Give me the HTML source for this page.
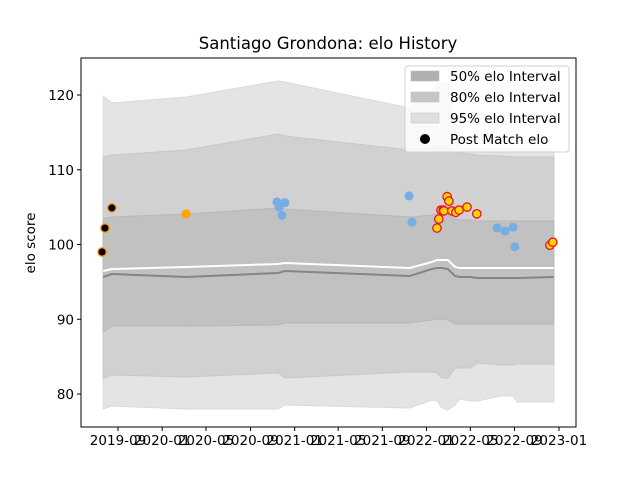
<!DOCTYPE html>
<html><head><meta charset="utf-8"><style>
body{margin:0;background:#fff;}
svg{display:block;font-family:"DejaVu Sans","Liberation Sans",sans-serif;}
</style></head><body>
<svg id="chart" width="640" height="480" viewBox="0 0 640 480">
<rect width="640" height="480" fill="#fff"/>
<text x="328" y="49" font-size="16.5" text-anchor="middle" fill="#000">Santiago Grondona: elo History</text>
<text transform="translate(35,243) rotate(-90)" font-size="13.5" text-anchor="middle">elo score</text>
<g id="bands"></g>
<g id="lines"></g>
<g id="points"></g>
<g id="axes"></g>
<g id="legend"></g>
</svg>
<script>
// days since 2019-09-01
const bandDays=[-41,-17,188,442,461,806,867,881,895,911,931,944,972,994,1055,1091,1102,1204];
const lo50=[88.29,89.10,89.10,89.23,89.50,89.50,89.90,90.03,90.03,89.90,89.37,89.37,89.37,89.37,89.37,89.37,89.37,89.37];
const up50=[103.41,103.68,104.08,104.88,104.75,103.68,103.95,104.08,104.08,103.95,103.41,103.28,103.28,103.14,103.14,103.14,103.14,103.14];
const lo80=[82.14,82.54,82.27,82.81,82.14,82.94,82.94,82.81,82.14,82.14,83.48,83.48,83.48,84.15,83.88,83.88,84.01,84.01];
const up80=[111.71,111.97,112.64,114.78,114.52,112.64,112.91,113.04,113.04,112.91,112.37,112.24,112.11,111.97,111.84,111.71,111.71,111.71];
const lo95=[77.99,78.39,77.99,77.99,78.53,78.13,79.20,79.06,78.13,77.86,78.53,79.33,79.06,79.06,79.73,79.73,78.93,78.93];
const up95=[119.87,118.93,119.73,121.87,121.74,118.26,120.67,121.61,121.74,121.47,115.32,112.91,112.91,112.91,112.78,112.78,112.64,112.64];
const meanLine=[95.65,96.05,95.65,96.19,96.45,95.79,96.72,96.86,96.86,96.72,95.79,95.65,95.65,95.52,95.52,95.52,95.52,95.65];
const medianLine=[96.45,96.72,96.99,97.39,97.53,96.86,97.66,97.93,97.93,97.93,96.99,96.86,96.86,96.86,96.86,96.86,96.86,96.86];

const blackDays=[-44,-36,-17];
const blackVals=[99.0,102.2,104.9];
const orangeDays=[188];
const orangeVals=[104.1];
const blueDays=[439,445,453,461,804,812,1047,1069,1091,1096];
const blueVals=[105.7,105.0,103.9,105.6,106.5,103.0,102.2,101.8,102.3,99.7];
const yellowDays=[881,886,892,898,900,909,914,922,933,942,964,991,1193,1201];
const yellowVals=[102.2,103.4,104.6,104.6,104.5,106.4,105.8,104.5,104.3,104.6,105.0,104.1,99.9,100.3];

const xTickDays=[0,122,243,366,488,608,730,852,973,1095,1218];
const xTickLabels=["2019-09","2020-01","2020-05","2020-09","2021-01","2021-05","2021-09","2022-01","2022-05","2022-09","2023-01"];
const yTicks=[80,90,100,110,120];

const NS="http://www.w3.org/2000/svg";
const PX0=81,PX1=576,PY0=58,PY1=427;
const xS=d=>118+d*(441/1218);
const yS=v=>95+(120-v)*7.475;
function mk(tag,attrs,parent){const e=document.createElementNS(NS,tag);for(const k in attrs)e.setAttribute(k,attrs[k]);parent.appendChild(e);return e;}
function bandPath(lo,up){let d="";bandDays.forEach((t,i)=>{d+=(i?"L":"M")+xS(t).toFixed(1)+","+yS(up[i]).toFixed(1);});
for(let i=bandDays.length-1;i>=0;i--)d+="L"+xS(bandDays[i]).toFixed(1)+","+yS(lo[i]).toFixed(1);return d+"Z";}
const bands=document.getElementById('bands');
let b=mk('path',{d:bandPath(lo95,up95),fill:'#e4e4e4',stroke:'#dadada','stroke-width':1},bands);


b=mk('path',{d:bandPath(lo80,up80),fill:'#d1d1d1',stroke:'#c8c8c8','stroke-width':1},bands);


b=mk('path',{d:bandPath(lo50,up50),fill:'#c1c1c1',stroke:'#b8b8b8','stroke-width':1},bands);


const lines=document.getElementById('lines');
function linePath(arr){return bandDays.map((t,i)=>(i?"L":"M")+xS(t).toFixed(1)+","+yS(arr[i]).toFixed(1)).join("");}
let l=mk('path',{d:linePath(medianLine),fill:'none',stroke:'#fff','stroke-width':2},lines);


l=mk('path',{d:linePath(meanLine),fill:'none',stroke:'#858585','stroke-width':2},lines);


const pts=document.getElementById('points');
function dots(days,vals,fill,stroke,name){days.forEach((t,i)=>{const c=mk('circle',{cx:xS(t),cy:yS(vals[i]),r:stroke?4.2:4.5,fill:fill,stroke:stroke||'none','stroke-width':1.3},pts);

});}
dots(blueDays,blueVals,'#76ade2',null,'point-blue');
dots(orangeDays,orangeVals,'#ffa500',null,'point-orange');
dots(blackDays,blackVals,'#000','#ff9900','point-black');
dots(yellowDays,yellowVals,'#ffd400','#e8112d','point-yellow');
const ax=document.getElementById('axes');
const fr=mk('rect',{x:PX0,y:PY0,width:PX1-PX0,height:PY1-PY0,fill:'none',stroke:'#000','stroke-width':1},ax);


xTickDays.forEach((t,i)=>{const x=xS(t);mk('line',{x1:x,x2:x,y1:PY1,y2:PY1+4,stroke:'#000'},ax);
const tx=mk('text',{x:x,y:PY1+18,'font-size':13.5,'text-anchor':'middle'},ax);tx.textContent=xTickLabels[i];

});
yTicks.forEach(v=>{const y=yS(v);mk('line',{x1:PX0-4,x2:PX0,y1:y,y2:y,stroke:'#000'},ax);
const tx=mk('text',{x:PX0-7,y:y+5,'font-size':13.5,'text-anchor':'end'},ax);tx.textContent=v;

});
const lg=document.getElementById('legend');
mk('rect',{x:405,y:66,width:164,height:86,rx:3,fill:'#fff','fill-opacity':0.8,stroke:'#d0d0d0'},lg);
const lgItems=[['50% elo Interval','#b0b0b0'],['80% elo Interval','#c6c6c6'],['95% elo Interval','#e0e0e0'],['Post Match elo',null]];
lgItems.forEach((it,i)=>{const y=76+i*21;
if(it[1])mk('rect',{x:411,y:y-5,width:28,height:10,fill:it[1],stroke:'#bbb','stroke-width':0.5},lg);
else mk('circle',{cx:425,cy:y,r:5,fill:'#000'},lg);
const tx=mk('text',{x:450,y:y+5,'font-size':13.5},lg);tx.textContent=it[0];

});
</script>
</body></html>
